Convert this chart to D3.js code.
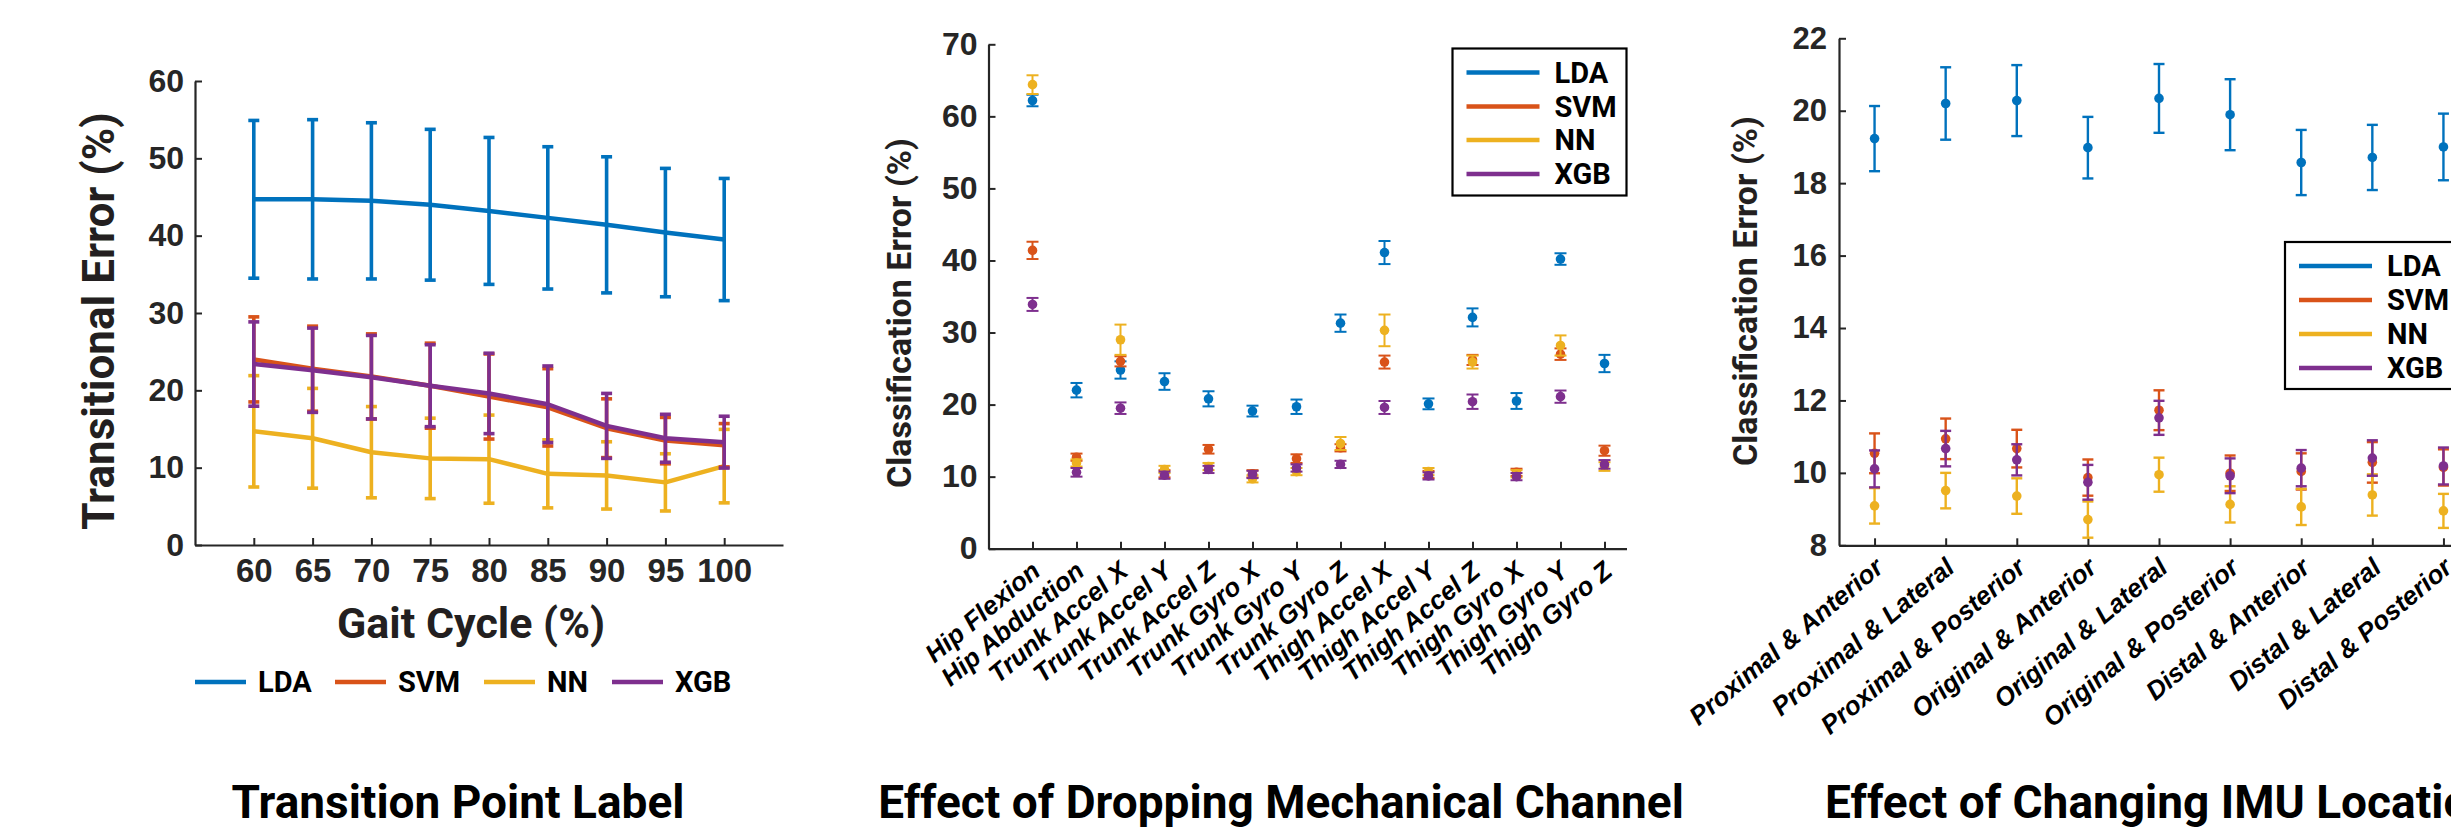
<!DOCTYPE html>
<html>
<head>
<meta charset="utf-8">
<script src="https://cdn.jsdelivr.net/npm/d3@7"></script>
<style>
  html, body { margin: 0; padding: 0; background: #fff; }
  svg { display: block; font-family: Roboto, "Open Sans", Arial, sans-serif; }
</style>
</head>
<body>
<svg id="fig" width="2451" height="837"></svg>
<script>
// ---------- data ----------
const classifiers = ["LDA", "SVM", "NN", "XGB"];

// Transition point label: error vs gait cycle (%)
const gaitCycle = [60, 65, 70, 75, 80, 85, 90, 95, 100];
const transLDA    = [44.7, 44.7, 44.5, 44.0, 43.2, 42.3, 41.4, 40.4, 39.5];
const transLDAErr = [10.2, 10.3, 10.1, 9.75, 9.5, 9.2, 8.8, 8.3, 7.9];
const transSVM    = [24.0, 22.8, 21.8, 20.6, 19.2, 17.8, 15.1, 13.5, 12.9];
const transSVMErr = [5.5, 5.5, 5.5, 5.5, 5.5, 5.0, 3.8, 3.0, 2.8];
const transNN     = [14.7, 13.8, 12.0, 11.2, 11.1, 9.2, 9.0, 8.1, 10.2];
const transNNErr  = [7.2, 6.45, 5.9, 5.2, 5.7, 4.4, 4.35, 3.7, 4.75];
const transXGB    = [23.4, 22.6, 21.7, 20.6, 19.6, 18.2, 15.4, 13.8, 13.3];
const transXGBErr = [5.45, 5.45, 5.4, 5.3, 5.2, 4.95, 4.2, 3.1, 3.35];
const transYTicks = [0, 10, 20, 30, 40, 50, 60];

// Dropping one mechanical channel
const channels = ["Hip Flexion", "Hip Abduction", "Trunk Accel X", "Trunk Accel Y",
  "Trunk Accel Z", "Trunk Gyro X", "Trunk Gyro Y", "Trunk Gyro Z", "Thigh Accel X",
  "Thigh Accel Y", "Thigh Accel Z", "Thigh Gyro X", "Thigh Gyro Y", "Thigh Gyro Z"];
const dropLDA    = [62.2, 22.0, 24.8, 23.2, 20.8, 19.1, 19.7, 31.3, 41.1, 20.1, 32.1, 20.5, 40.2, 25.7];
const dropLDAErr = [0.8, 1.0, 1.2, 1.15, 1.05, 0.75, 1.0, 1.2, 1.6, 0.75, 1.25, 1.1, 0.8, 1.2];
const dropSVM    = [41.4, 12.7, 26.0, 10.4, 13.8, 10.4, 12.5, 14.0, 25.9, 10.3, 26.2, 10.6, 27.0, 13.6];
const dropSVMErr = [1.2, 0.5, 0.7, 0.5, 0.6, 0.5, 0.6, 0.5, 0.9, 0.5, 0.7, 0.5, 0.8, 0.7];
const dropNN     = [64.4, 11.9, 29.0, 11.0, 11.4, 9.7, 10.7, 14.6, 30.3, 10.7, 25.9, 10.4, 28.2, 11.4];
const dropNNErr  = [1.3, 0.5, 2.1, 0.5, 0.5, 0.5, 0.5, 0.9, 2.2, 0.5, 0.9, 0.5, 1.4, 0.6];
const dropXGB    = [33.9, 10.6, 19.5, 10.2, 11.0, 10.3, 11.2, 11.7, 19.6, 10.1, 20.4, 10.0, 21.1, 11.7];
const dropXGBErr = [0.9, 0.6, 0.8, 0.5, 0.5, 0.5, 0.5, 0.5, 0.9, 0.5, 1.0, 0.5, 0.85, 0.6];
const dropYTicks = [0, 10, 20, 30, 40, 50, 60, 70];

// Changing IMU location
const locations = ["Proximal & Anterior", "Proximal & Lateral", "Proximal & Posterior",
  "Original & Anterior", "Original & Lateral", "Original & Posterior",
  "Distal & Anterior", "Distal & Lateral", "Distal & Posterior"];
const locLDA    = [19.23, 20.20, 20.28, 18.98, 20.34, 19.89, 18.57, 18.71, 19.00];
const locLDAErr = [0.9, 1.0, 0.98, 0.85, 0.95, 0.98, 0.9, 0.9, 0.92];
const locSVM    = [10.54, 10.94, 10.67, 9.87, 11.73, 9.99, 10.04, 10.29, 10.15];
const locSVMErr = [0.55, 0.56, 0.52, 0.5, 0.55, 0.49, 0.5, 0.56, 0.5];
const locNN     = [9.09, 9.51, 9.36, 8.71, 9.95, 9.13, 9.06, 9.39, 8.95];
const locNNErr  = [0.49, 0.49, 0.49, 0.5, 0.47, 0.5, 0.5, 0.57, 0.47];
const locXGB    = [10.11, 10.67, 10.36, 9.74, 11.52, 9.92, 10.13, 10.41, 10.19];
const locXGBErr = [0.51, 0.49, 0.43, 0.48, 0.47, 0.48, 0.5, 0.49, 0.51];
const locYTicks = [8, 10, 12, 14, 16, 18, 20, 22];

const panelTitles = ["Transition Point Label", "Effect of Dropping Mechanical Channel",
  "Effect of Changing IMU Location"];

// ---------- style ----------
const colors = { LDA: "#0072BD", SVM: "#D95319", NN: "#EDB120", XGB: "#7E2F8E" };
const axisColor = "#262626";

const svg = d3.select("#fig");

function styleAxis(g, fontSize) {
  g.select(".domain").attr("stroke", axisColor).attr("stroke-width", 2.2);
  g.selectAll(".tick line").attr("stroke", axisColor).attr("stroke-width", 2);
  g.selectAll(".tick text").attr("fill", axisColor)
    .style("font-size", fontSize + "px").style("font-weight", 700);
}

function errorBars(g, x, y, xs, means, errs, color, capHalf, width) {
  const grp = g.append("g");
  xs.forEach((xv, i) => {
    const cx = x(xv), yt = y(means[i] + errs[i]), yb = y(means[i] - errs[i]);
    grp.append("line").attr("x1", cx).attr("x2", cx).attr("y1", yt).attr("y2", yb)
      .attr("stroke", color).attr("stroke-width", width);
    [yt, yb].forEach(yy => grp.append("line")
      .attr("x1", cx - capHalf).attr("x2", cx + capHalf).attr("y1", yy).attr("y2", yy)
      .attr("stroke", color).attr("stroke-width", width));
  });
  return grp;
}

function boxedLegend(g, x0, y0, w, h, rowY) {
  g.append("rect").attr("x", x0).attr("y", y0).attr("width", w).attr("height", h)
    .attr("fill", "#fff").attr("stroke", "#000").attr("stroke-width", 2.2);
  classifiers.forEach((c, i) => {
    const yy = y0 + rowY[i];
    g.append("line").attr("x1", x0 + 14).attr("x2", x0 + 87).attr("y1", yy).attr("y2", yy)
      .attr("stroke", colors[c]).attr("stroke-width", 4.5);
    g.append("text").attr("x", x0 + 102).attr("y", yy).attr("dy", "0.36em")
      .style("font-size", "29px").style("font-weight", 700).attr("fill", "#000").text(c);
  });
}

// ---------- panel 1: transition point label ----------
{
  const g = svg.append("g");
  const x = d3.scaleLinear().domain([55, 105]).range([195, 783]);
  const y = d3.scaleLinear().domain([0, 60]).range([545, 81]);

  g.append("g").attr("transform", "translate(0,545)")
    .call(d3.axisBottom(x).tickValues(gaitCycle).tickSizeInner(-7).tickSizeOuter(0).tickPadding(14))
    .call(a => styleAxis(a, 33));
  g.append("g").attr("transform", "translate(195,0)")
    .call(d3.axisLeft(y).tickValues(transYTicks).tickSizeInner(-7).tickSizeOuter(0).tickPadding(11))
    .call(a => styleAxis(a, 32));

  const series = [
    { name: "LDA", m: transLDA, e: transLDAErr },
    { name: "NN", m: transNN, e: transNNErr },
    { name: "SVM", m: transSVM, e: transSVMErr },
    { name: "XGB", m: transXGB, e: transXGBErr }
  ];
  const line = d3.line().x((d, i) => x(gaitCycle[i])).y(d => y(d));
  series.forEach(s => {
    g.append("path").datum(s.m).attr("d", line).attr("fill", "none")
      .attr("stroke", colors[s.name]).attr("stroke-width", 4.5).attr("stroke-linejoin", "round");
    errorBars(g, x, y, gaitCycle, s.m, s.e, colors[s.name], 5.5, 3.6);
  });

  g.append("text").attr("transform", "translate(114,321) rotate(-90)")
    .attr("text-anchor", "middle").style("font-size", "44px").style("font-weight", 700)
    .attr("fill", "#231f20").text("Transitional Error (%)");
  g.append("text").attr("x", 471).attr("y", 638).attr("text-anchor", "middle")
    .style("font-size", "43px").style("font-weight", 700).attr("fill", "#231f20")
    .text("Gait Cycle (%)");

  // horizontal legend below the axis
  const legX = [195, 335, 484, 612];
  classifiers.forEach((c, i) => {
    g.append("line").attr("x1", legX[i]).attr("x2", legX[i] + 51).attr("y1", 682).attr("y2", 682)
      .attr("stroke", colors[c]).attr("stroke-width", 4.5);
    g.append("text").attr("x", legX[i] + 63).attr("y", 682).attr("dy", "0.36em")
      .style("font-size", "29px").style("font-weight", 700).attr("fill", "#000").text(c);
  });
}

// ---------- panel 2: dropping a mechanical channel ----------
{
  const g = svg.append("g");
  const idx = d3.range(1, channels.length + 1);
  const x = d3.scaleLinear().domain([0, 14.5]).range([988.5, 1626.5]);
  const y = d3.scaleLinear().domain([0, 70]).range([548.7, 44.3]);

  g.append("g").attr("transform", "translate(0,548.7)")
    .call(d3.axisBottom(x).tickValues(idx).tickFormat(i => channels[i - 1])
      .tickSizeInner(-7).tickSizeOuter(0))
    .call(a => styleAxis(a, 26))
    .call(a => a.selectAll(".tick text")
      .attr("x", 0).attr("y", 0).attr("dy", "0.35em").attr("fill", "#000")
      .attr("text-anchor", "end").style("font-style", "italic")
      .attr("transform", "translate(3,18) rotate(-40)"));
  g.append("g").attr("transform", "translate(988.5,0)")
    .call(d3.axisLeft(y).tickValues(dropYTicks).tickSizeInner(-7).tickSizeOuter(0).tickPadding(11))
    .call(a => styleAxis(a, 32));

  const series = [
    { name: "LDA", m: dropLDA, e: dropLDAErr },
    { name: "SVM", m: dropSVM, e: dropSVMErr },
    { name: "NN", m: dropNN, e: dropNNErr },
    { name: "XGB", m: dropXGB, e: dropXGBErr }
  ];
  series.forEach(s => {
    errorBars(g, x, y, idx, s.m, s.e, colors[s.name], 6, 2);
    g.append("g").selectAll("circle").data(s.m).join("circle")
      .attr("cx", (d, i) => x(idx[i])).attr("cy", d => y(d)).attr("r", 4.8)
      .attr("fill", colors[s.name]);
  });

  g.append("text").attr("transform", "translate(911,313) rotate(-90)")
    .attr("text-anchor", "middle").style("font-size", "34px").style("font-weight", 700)
    .attr("fill", "#231f20").text("Classification Error (%)");

  boxedLegend(g, 1452.5, 48.5, 174, 147, [24, 58, 91.5, 125.5]);
}

// ---------- panel 3: changing IMU location ----------
{
  const g = svg.append("g");
  const idx = d3.range(1, locations.length + 1);
  const x = d3.scaleLinear().domain([0.5, 9.5]).range([1839, 2479]);
  const y = d3.scaleLinear().domain([8, 22]).range([545.3, 38.3]);

  g.append("g").attr("transform", "translate(0,545.3)")
    .call(d3.axisBottom(x).tickValues(idx).tickFormat(i => locations[i - 1])
      .tickSizeInner(-7).tickSizeOuter(0))
    .call(a => styleAxis(a, 26))
    .call(a => a.selectAll(".tick text")
      .attr("x", 0).attr("y", 0).attr("dy", "0.35em").attr("fill", "#000")
      .attr("text-anchor", "end").style("font-style", "italic")
      .attr("transform", "translate(4,18) rotate(-40)"));
  g.append("g").attr("transform", "translate(1839,0)")
    .call(d3.axisLeft(y).tickValues(locYTicks).tickSizeInner(-7).tickSizeOuter(0).tickPadding(12))
    .call(a => styleAxis(a, 31));

  const series = [
    { name: "LDA", m: locLDA, e: locLDAErr },
    { name: "SVM", m: locSVM, e: locSVMErr },
    { name: "NN", m: locNN, e: locNNErr },
    { name: "XGB", m: locXGB, e: locXGBErr }
  ];
  series.forEach(s => {
    errorBars(g, x, y, idx, s.m, s.e, colors[s.name], 5.5, 2.4);
    g.append("g").selectAll("circle").data(s.m).join("circle")
      .attr("cx", (d, i) => x(idx[i])).attr("cy", d => y(d)).attr("r", 4.8)
      .attr("fill", colors[s.name]);
  });

  g.append("text").attr("transform", "translate(1757,291) rotate(-90)")
    .attr("text-anchor", "middle").style("font-size", "34px").style("font-weight", 700)
    .attr("fill", "#231f20").text("Classification Error (%)");

  boxedLegend(g, 2285, 242, 174, 147, [24, 58, 92, 126]);
}

// ---------- panel titles ----------
const titleX = [458, 1281, 1825];
const titleAnchor = ["middle", "middle", "start"];
panelTitles.forEach((t, i) => {
  svg.append("text").attr("x", titleX[i]).attr("y", 818).attr("text-anchor", titleAnchor[i])
    .style("font-size", "46px").style("font-weight", 700).attr("fill", "#000").text(t);
});
</script>
</body>
</html>
